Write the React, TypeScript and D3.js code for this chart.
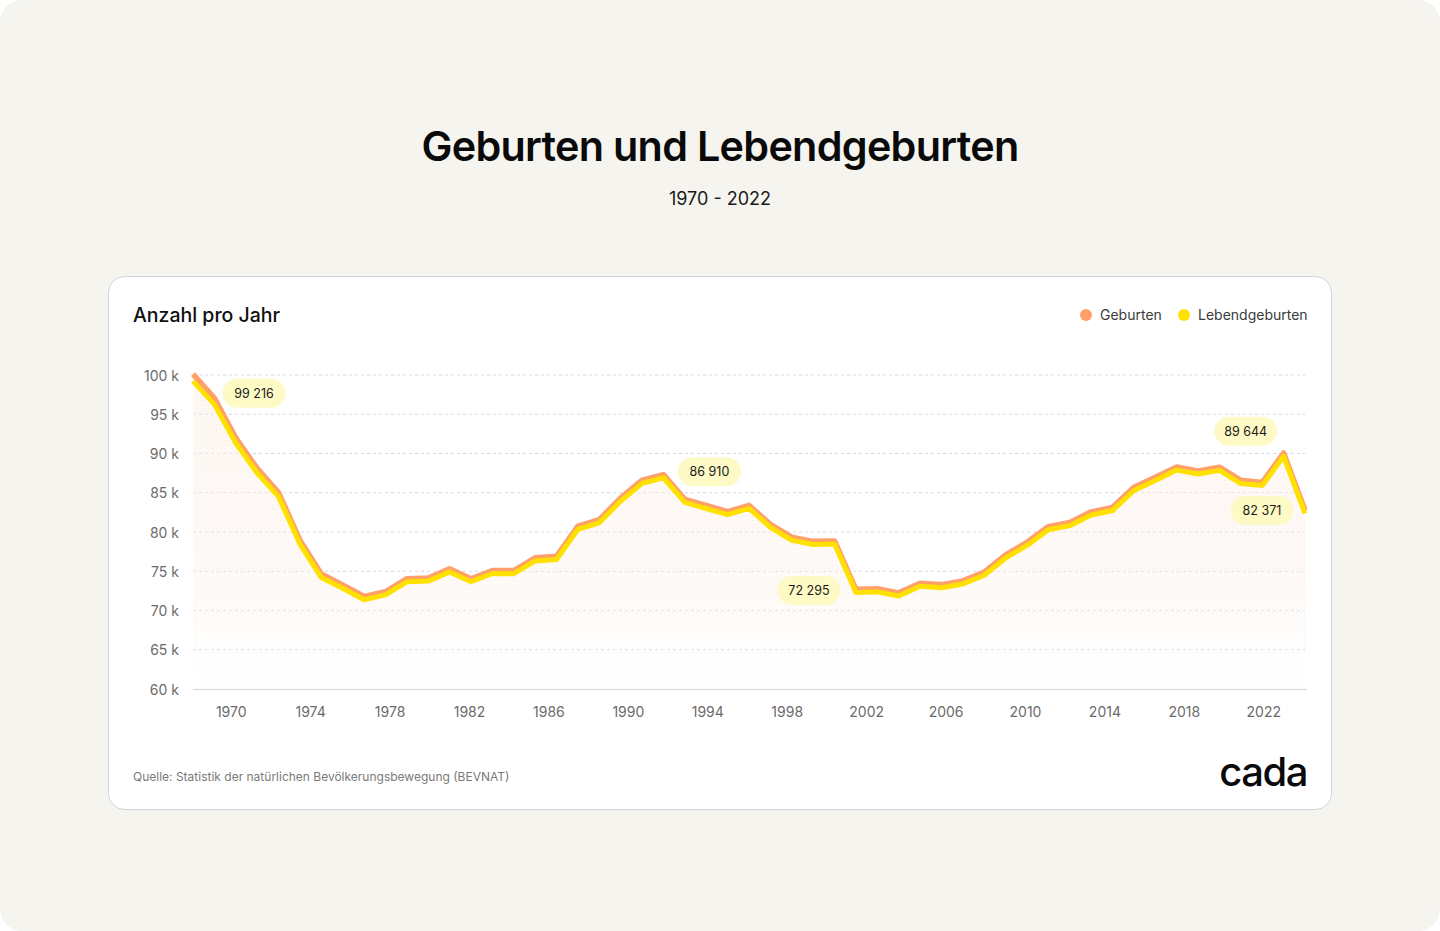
import React from "react";
import * as d3 from "d3";

const years: number[] = d3.range(1970, 2023);

const lebendgeburten: number[] = [
  99216, 96261, 91342, 87518, 84507, 78464, 74199, 72829, 71375, 71986,
  73661, 73747, 74916, 73659, 74710, 74684, 76320, 76505, 80345, 81180,
  83939, 86200, 86910, 83762, 82980, 82203, 83007, 80584, 78949, 78408,
  78458, 72295, 72372, 71848, 73082, 72903, 73371, 74494, 76691, 78286,
  80290, 80808, 82164, 82731, 85287, 86559, 87883, 87381, 87851, 86172,
  85914, 89644, 82371,
];

const geburten: number[] = [
  100120, 97050, 92000, 88100, 85030, 78960, 74660, 73260, 71790, 72390,
  74060, 74140, 75310, 74050, 75100, 75080, 76720, 76900, 80740, 81570,
  84340, 86600, 87320, 84160, 83380, 82600, 83400, 80980, 79350, 78810,
  78860, 72700, 72770, 72250, 73480, 73300, 73770, 74890, 77090, 78690,
  80690, 81210, 82570, 83140, 85690, 86960, 88290, 87790, 88260, 86580,
  86320, 90060, 82790,
];

const yTicks: number[] = [60000, 65000, 70000, 75000, 80000, 85000, 90000, 95000, 100000];
const xTickLabels: string[] = [
  "1970", "1974", "1978", "1982", "1986", "1990", "1994",
  "1998", "2002", "2006", "2010", "2014", "2018", "2022",
];

const annotations = [
  { year: 1970, label: "99 216", dx: 61, dy: 12 },
  { year: 1992, label: "86 910", dx: 46, dy: -6 },
  { year: 2001, label: "72 295", dx: -47, dy: -2 },
  { year: 2021, label: "89 644", dx: -38, dy: -25 },
  { year: 2022, label: "82 371", dx: -43, dy: -3 },
];

const seriesNames = ["Geburten", "Lebendgeburten"];
const COL_ORANGE = "#ffa06a";
const COL_YELLOW = "#ffe100";
const FONT = "Inter, 'Noto Sans', sans-serif";

export default function App() {
  const W = 1440;
  const H = 931;
  const left = 193;
  const right = 1305;
  const top = 375;
  const bottom = 689;

  const x = d3.scaleLinear().domain([1970, 2022]).range([left, right]);
  const y = d3.scaleLinear().domain([60000, 100000]).range([bottom, top]);
  const xLab = d3.scalePoint<string>().domain(xTickLabels).range([left, right]).padding(0.5);

  const line = d3
    .line<number>()
    .x((_, i) => x(years[i]))
    .y((d) => y(d));
  const area = d3
    .area<number>()
    .x((_, i) => x(years[i]))
    .y0(bottom)
    .y1((d) => y(d));

  const fmt = (v: number) => `${v / 1000} k`;

  return (
    <div style={{ position: "absolute", left: 0, top: 0, width: W, height: H }}>
      <svg width={W} height={H} style={{ display: "block", fontFamily: FONT }}>
        <defs>
          <linearGradient id="areaGrad" x1="0" y1="0" x2="0" y2="1">
            <stop offset="0%" stopColor="#fcefe7" stopOpacity={0.5} />
            <stop offset="70%" stopColor="#fdf4ee" stopOpacity={0.45} />
            <stop offset="100%" stopColor="#ffffff" stopOpacity={0} />
          </linearGradient>
          <pattern id="dots" width="4" height="4" patternUnits="userSpaceOnUse">
            <rect width="1" height="1" fill="#f3dccf" opacity={0.35} />
          </pattern>
        </defs>
        <rect x={0} y={0} width={W} height={H} fill="#ffffff" />
        <rect x={0} y={0} width={W} height={H} rx={22} fill="#f5f4ef" />

        <text x={720} y={161} textAnchor="middle" fontSize={41.3} fontWeight={600} fill="#0a0a0a" letterSpacing={-0.7}>
          Geburten und Lebendgeburten
        </text>
        <text x={720} y={205} textAnchor="middle" fontSize={18} fill="#1a1a1a">
          1970 - 2022
        </text>

        <rect x={108.5} y={276.5} width={1223} height={533} rx={16} fill="#ffffff" stroke="#cfd4dc" />

        <text x={133} y={322} fontSize={19.5} fontWeight={500} fill="#0f0f0f">
          Anzahl pro Jahr
        </text>

        <g fontSize={14} fill="#3a3a3a">
          <circle cx={1086} cy={315} r={6} fill={COL_ORANGE} />
          <text x={1100} y={320}>{seriesNames[0]}</text>
          <circle cx={1184} cy={315} r={6} fill={COL_YELLOW} />
          <text x={1198} y={320}>{seriesNames[1]}</text>
        </g>

        {yTicks.map((t) => (
          <g key={t}>
            {t !== 60000 && (
              <line x1={left} x2={right} y1={y(t)} y2={y(t)} stroke="#d6d9df" strokeDasharray="3,3" />
            )}
            <text x={179} y={y(t) + 5.5} textAnchor="end" fontSize={14} fill="#6b6b6b">
              {fmt(t)}
            </text>
          </g>
        ))}

        <path d={area(geburten) || ""} fill="url(#areaGrad)" />
        <path d={area(geburten) || ""} fill="url(#dots)" />

        <line x1={left} x2={right + 2} y1={bottom + 0.5} y2={bottom + 0.5} stroke="#d4d7dd" />

        {xTickLabels.map((l) => (
          <text key={l} x={xLab(l)! - 1.5} y={717} textAnchor="middle" fontSize={14} fill="#6b6b6b">
            {l}
          </text>
        ))}

        <path d={line(geburten) || ""} fill="none" stroke={COL_ORANGE} strokeWidth={5.5} strokeLinejoin="round" />
        <path d={line(lebendgeburten) || ""} fill="none" stroke={COL_YELLOW} strokeWidth={5} strokeLinejoin="round" />

        {annotations.map((a) => {
          const i = years.indexOf(a.year);
          const cx = x(a.year) + a.dx;
          const cy = y(lebendgeburten[i]) + a.dy;
          const w = 63;
          const h = 29;
          return (
            <g key={a.label}>
              <rect x={cx - w / 2} y={cy - h / 2} width={w} height={h} rx={h / 2} fill="#fdfac5" />
              <text x={cx} y={cy + 4.5} textAnchor="middle" fontSize={12.5} fill="#1a1a1a">
                {a.label}
              </text>
            </g>
          );
        })}

        <text x={133} y={781} fontSize={12} fill="#7a7a7a">
          Quelle: Statistik der natürlichen Bevölkerungsbewegung (BEVNAT)
        </text>
        <text x={1307} y={786} textAnchor="end" fontSize={40} fontWeight={500} fill="#0a0a0a" letterSpacing={-1.5}>
          cada
        </text>
      </svg>
    </div>
  );
}
